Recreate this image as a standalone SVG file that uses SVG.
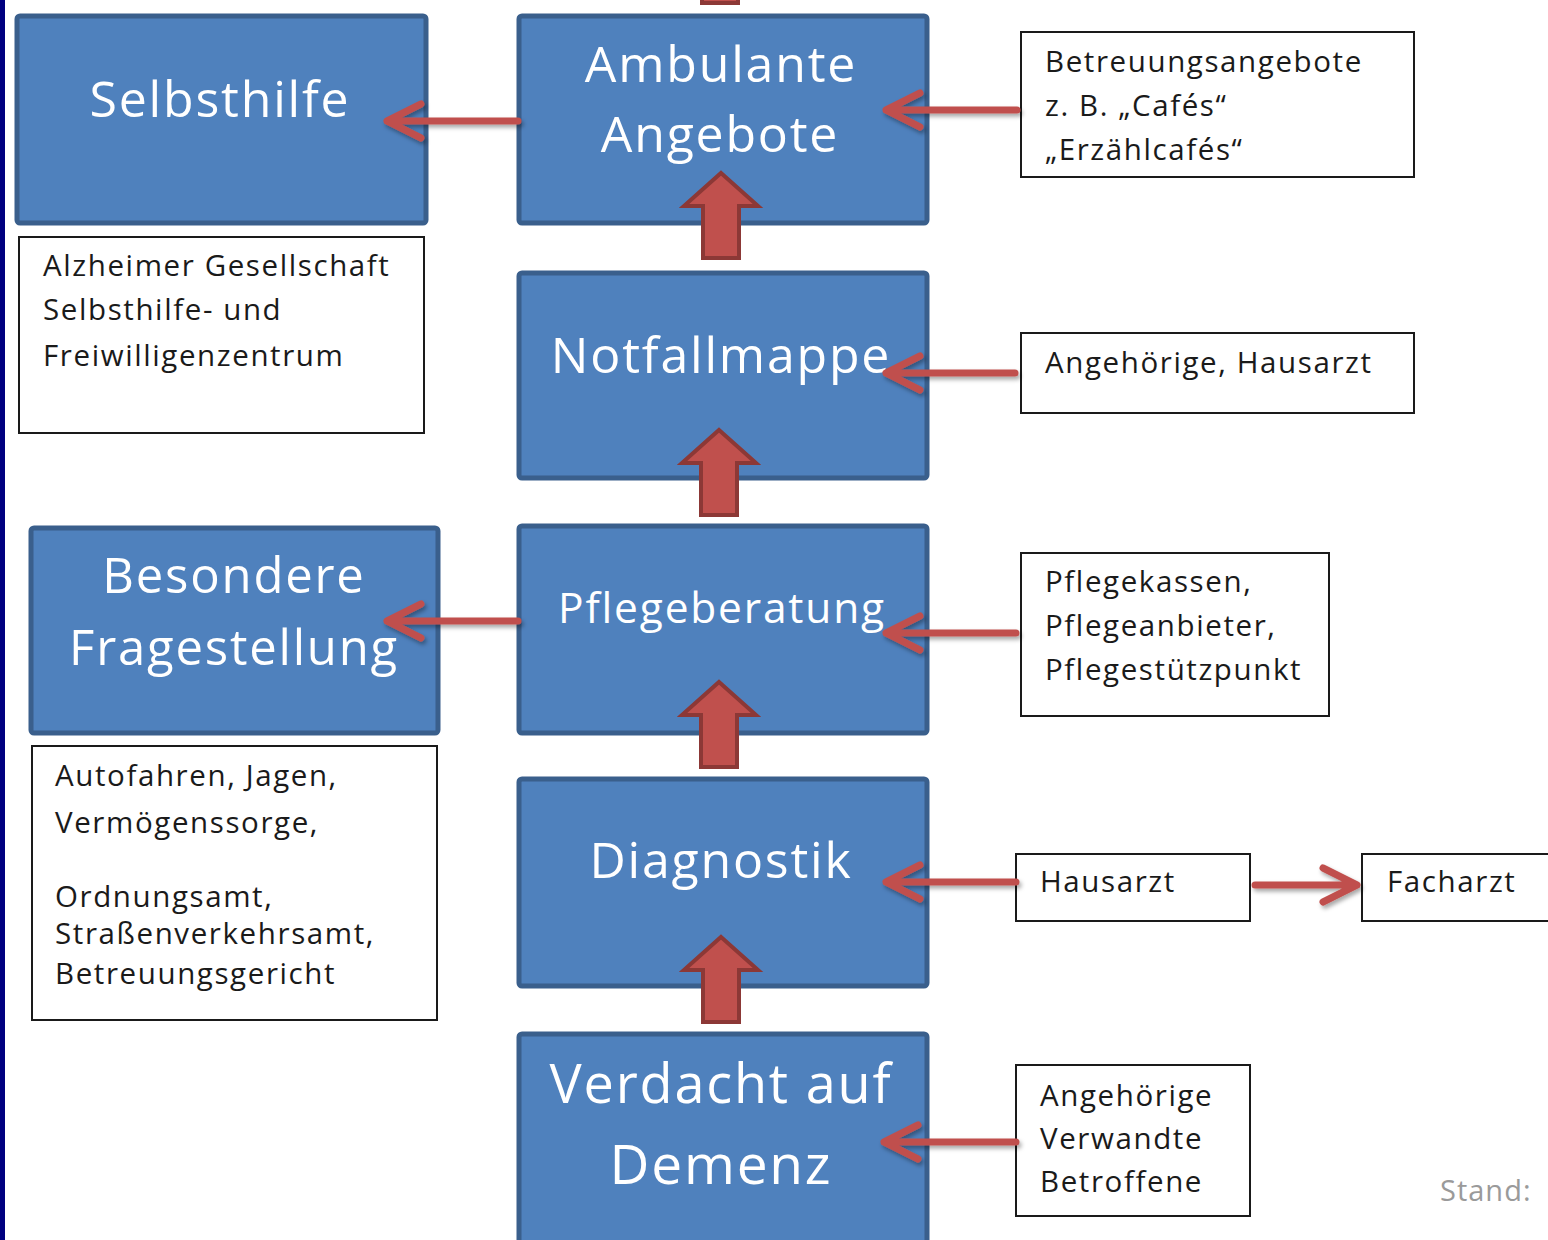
<svg xmlns="http://www.w3.org/2000/svg" xmlns:xlink="http://www.w3.org/1999/xlink" width="1548" height="1240" viewBox="0 0 1548 1240">
<style>
.main{fill:#4F81BD;stroke:#3A5F8C;stroke-width:5}
.hd{font-family:"Open Sans","DejaVu Sans",sans-serif;fill:#ffffff;text-anchor:middle;letter-spacing:1.8px}
.note{fill:#ffffff;stroke:#1a1a1a;stroke-width:2}
.tx{font-family:"Open Sans","DejaVu Sans",sans-serif;font-size:29.5px;fill:#1a1a1a;letter-spacing:1.6px}
.ln{fill:none;stroke:#C0504D;stroke-width:7;stroke-linecap:round;stroke-linejoin:round}
.blk{fill:#C0504D;stroke:#8C3836;stroke-width:4}
</style>
<defs>
<path id="ba" d="M0,0 L37,33 L18,33 L18,85 L-18,85 L-18,33 L-37,33 Z"/>
<filter id="sh" x="-10%" y="-30%" width="130%" height="160%"><feDropShadow dx="2" dy="3" stdDeviation="2" flood-color="#000" flood-opacity="0.35"/></filter>
</defs>
<rect width="1548" height="1240" fill="#ffffff"/>
<rect x="0" y="0" width="5" height="1240" fill="#000080"/>

<g id="n-selbsthilfe"><rect class="main" x="17" y="16" width="409" height="207" rx="3"/><text class="hd" x="220" y="117" font-size="50">Selbsthilfe</text></g>
<g id="n-ambulante"><rect class="main" x="519" y="16" width="408" height="207" rx="3"/><text class="hd" x="721" y="82" font-size="50">Ambulante</text><text class="hd" x="720" y="152" font-size="50">Angebote</text></g>
<g id="n-betreuung"><rect class="note" x="1021" y="32" width="393" height="145"/><text class="tx" x="1045" y="72">Betreuungsangebote</text><text class="tx" x="1045" y="116">z. B. „Cafés“</text><text class="tx" x="1045" y="160">„Erzählcafés“</text></g>
<g id="n-alzheimer"><rect class="note" x="19" y="237" width="405" height="196"/><text class="tx" x="43" y="276">Alzheimer Gesellschaft</text><text class="tx" x="43" y="320">Selbsthilfe- und</text><text class="tx" x="43" y="366">Freiwilligenzentrum</text></g>
<g id="n-notfall"><rect class="main" x="519" y="273" width="408" height="205" rx="3"/><text class="hd" x="721" y="373" font-size="50">Notfallmappe</text></g>
<g id="n-angeh-haus"><rect class="note" x="1021" y="333" width="393" height="80"/><text class="tx" x="1045" y="373">Angehörige, Hausarzt</text></g>
<g id="n-besondere"><rect class="main" x="31" y="528" width="407" height="205" rx="3"/><text class="hd" x="234" y="593" font-size="49">Besondere</text><text class="hd" x="234" y="665" font-size="49">Fragestellung</text></g>
<g id="n-pflege"><rect class="main" x="519" y="526" width="408" height="207" rx="3"/><text class="hd" x="722" y="623" font-size="42.5">Pflegeberatung</text></g>
<g id="n-pflegekassen"><rect class="note" x="1021" y="553" width="308" height="163"/><text class="tx" x="1045" y="592">Pflegekassen,</text><text class="tx" x="1045" y="636">Pflegeanbieter,</text><text class="tx" x="1045" y="680">Pflegestützpunkt</text></g>
<g id="n-autofahren"><rect class="note" x="32" y="746" width="405" height="274"/><text class="tx" x="55" y="786">Autofahren, Jagen,</text><text class="tx" x="55" y="833">Vermögenssorge,</text><text class="tx" x="55" y="907">Ordnungsamt,</text><text class="tx" x="55" y="944">Straßenverkehrsamt,</text><text class="tx" x="55" y="984">Betreuungsgericht</text></g>
<g id="n-diagnostik"><rect class="main" x="519" y="779" width="408" height="207" rx="3"/><text class="hd" x="721" y="878" font-size="50">Diagnostik</text></g>
<g id="n-hausarzt"><rect class="note" x="1016" y="854" width="234" height="67"/><text class="tx" x="1040" y="892">Hausarzt</text></g>
<g id="n-facharzt"><rect class="note" x="1362" y="854" width="200" height="67"/><text class="tx" x="1387" y="892">Facharzt</text></g>
<g id="n-verdacht"><rect class="main" x="519" y="1034" width="408" height="215" rx="3"/><text class="hd" x="721" y="1103" font-size="54">Verdacht auf</text><text class="hd" x="721" y="1184" font-size="55">Demenz</text></g>
<g id="n-angehoerige"><rect class="note" x="1016" y="1065" width="234" height="151"/><text class="tx" x="1040" y="1106">Angehörige</text><text class="tx" x="1040" y="1149">Verwandte</text><text class="tx" x="1040" y="1192">Betroffene</text></g>
<text x="1440" y="1201" font-family="'Open Sans','DejaVu Sans',sans-serif" font-size="29" fill="#9a9a9a" letter-spacing="1">Stand:</text>

<g id="connectors">
<g filter="url(#sh)">
<path class="ln" d="M518,121 H387 M421,104 L387,121 L421,138"/>
<path class="ln" d="M1017,110 H886 M920,93 L886,110 L920,127"/>
<path class="ln" d="M1015,373 H886 M920,356 L886,373 L920,390"/>
<path class="ln" d="M518,621 H387 M421,604 L387,621 L421,638"/>
<path class="ln" d="M1016,633 H886 M920,616 L886,633 L920,650"/>
<path class="ln" d="M1016,882 H886 M920,865 L886,882 L920,899"/>
<path class="ln" d="M1255,885 H1357 M1323,868 L1357,885 L1323,902"/>
<path class="ln" d="M1016,1142 H884 M918,1125 L884,1142 L918,1159"/>
</g>
<rect class="blk" x="702" y="-6" width="36" height="9"/>
<use xlink:href="#ba" class="blk" x="721" y="173"/>
<use xlink:href="#ba" class="blk" x="719" y="430"/>
<use xlink:href="#ba" class="blk" x="719" y="682"/>
<use xlink:href="#ba" class="blk" x="721" y="937"/>
</g>
</svg>
